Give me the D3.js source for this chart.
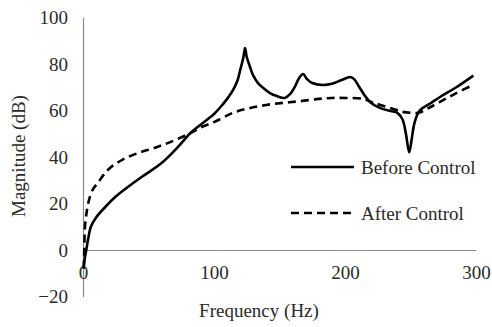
<!DOCTYPE html>
<html>
<head>
<meta charset="utf-8">
<script src="https://cdn.jsdelivr.net/npm/d3@7"></script>
<style>
  body { margin: 0; background: #fff; }
  text { font-family: "Liberation Serif", "DejaVu Serif", serif; fill: #2a2a2a; }
</style>
</head>
<body>
<div id="chart"></div>
<script>
// Frequency (Hz) / magnitude (dB)
const beforeFreq = [0.5, 1.5, 2.5, 4, 6, 10, 17, 25, 34, 45, 60, 72, 82, 90, 100, 105, 110, 114.5, 118, 120, 122.5, 123.7, 125, 127.5, 130, 133.6, 138, 142.7, 148, 154, 158, 162, 165, 168, 171, 175, 183, 190, 197, 204, 207, 211, 215, 219, 227, 235, 240, 244, 246.5, 249, 251, 253, 257, 265, 272.5, 285, 298];
const beforeMag = [-8, -3, 0, 5, 10, 14, 18.5, 23, 27, 31.5, 37.4, 44, 50.3, 54, 58.5, 61.5, 65, 68.8, 73, 77.4, 83, 86.9, 83, 78.7, 75, 71.8, 69.5, 67.5, 66.2, 65.4, 67, 70.5, 74, 75.7, 73.5, 71.8, 71, 71.5, 73, 74.4, 73.5, 70, 66.5, 63.7, 61, 59.8, 59, 56, 50, 42, 48, 54.6, 60, 63, 65.8, 70, 75];

const afterFreq = [0.5, 1, 1.5, 3, 5.3, 8, 11.5, 16, 21, 30, 42, 55, 67, 82, 89, 100, 114.5, 127, 140, 153, 166, 180, 190, 201, 214, 220, 227, 235, 244, 250, 256, 263, 272.5, 285, 298];
const afterMag = [-8, 0, 10, 17, 23, 26.5, 29, 32.5, 35.5, 38.8, 41.7, 44, 46.5, 50.3, 52.5, 55, 59, 61, 62.4, 63.3, 64, 65, 65.4, 65.4, 65, 63.7, 62.4, 61, 59.4, 59, 59, 60.8, 63.7, 67.5, 71];

const xTicks = [0, 100, 200, 300];
const yTicks = [-20, 0, 20, 40, 60, 80, 100];
const seriesNames = ['Before Control', 'After Control'];

const width = 492, height = 327;
const margin = {top: 17.5, right: 16, bottom: 30.5, left: 83};
const fontSize = 19;

const svg = d3.select('#chart')
    .append('svg')
    .attr('width', width)
    .attr('height', height);

const xScale = d3.scaleLinear()
    .domain([0, 300])
    .range([margin.left, width - margin.right]);

const yScale = d3.scaleLinear()
    .domain([-20, 100])
    .range([height - margin.bottom, margin.top]);

// axes: no tick marks, grey domain lines
const yAxis = svg.append('g')
    .attr('transform', 'translate(' + margin.left + ',0)')
    .call(d3.axisLeft(yScale).tickValues(yTicks).tickSize(0).tickPadding(15));

const xAxis = svg.append('g')
    .attr('transform', 'translate(0,' + yScale(0) + ')')
    .call(d3.axisBottom(xScale).tickValues(xTicks).tickSize(0).tickPadding(16));

[xAxis, yAxis].forEach(g => {
    g.select('.domain').attr('stroke', '#888').attr('stroke-width', 1.2);
    g.selectAll('text')
        .attr('font-family', '"Liberation Serif", serif')
        .attr('font-size', fontSize)
        .attr('fill', '#2a2a2a');
});

const line = d3.line()
    .x(d => xScale(d[0]))
    .y(d => yScale(d[1]))
    .curve(d3.curveCatmullRom.alpha(0.5));

const before = d3.zip(beforeFreq, beforeMag);
const after = d3.zip(afterFreq, afterMag);

svg.append('path')
    .datum(after)
    .attr('fill', 'none')
    .attr('stroke', '#000')
    .attr('stroke-width', 2.6)
    .attr('stroke-dasharray', '8,5')
    .attr('d', line);

svg.append('path')
    .datum(before)
    .attr('fill', 'none')
    .attr('stroke', '#000')
    .attr('stroke-width', 2.6)
    .attr('d', line);

// legend
const legend = svg.append('g');
seriesNames.forEach((name, i) => {
    const y = 167 + i * 46;
    legend.append('line')
        .attr('x1', 291).attr('x2', 354)
        .attr('y1', y).attr('y2', y)
        .attr('stroke', '#000')
        .attr('stroke-width', 2.6)
        .attr('stroke-dasharray', i === 1 ? '8,5' : null);
    legend.append('text')
        .attr('x', 361)
        .attr('y', y)
        .attr('dy', '0.35em')
        .attr('font-size', fontSize)
        .text(name);
});

// axis titles
svg.append('text')
    .attr('x', 259)
    .attr('y', 317)
    .attr('text-anchor', 'middle')
    .attr('font-size', fontSize)
    .text('Frequency (Hz)');

svg.append('text')
    .attr('transform', 'translate(25,156) rotate(-90)')
    .attr('text-anchor', 'middle')
    .attr('font-size', fontSize)
    .text('Magnitude (dB)');
</script>
</body>
</html>
